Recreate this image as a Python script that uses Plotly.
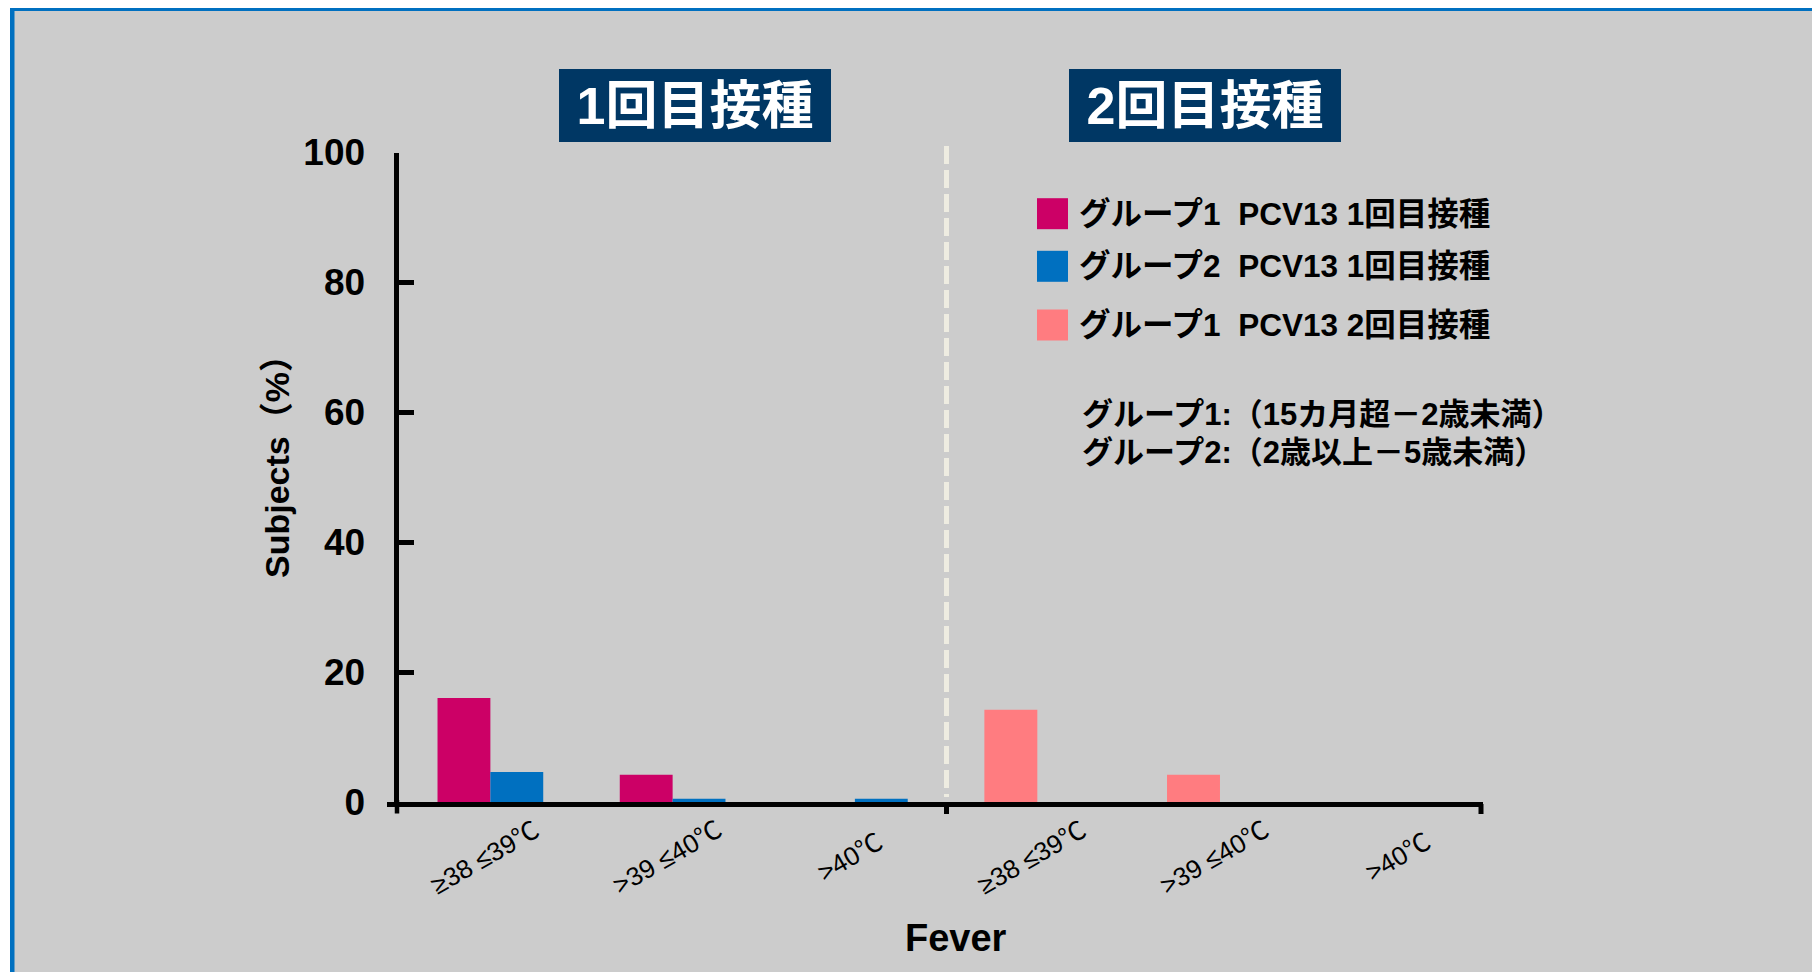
import plotly.graph_objects as go

# page size and the browser's default body margin (the figure is drawn at +8,+8)
PAGE_W, PAGE_H, OFF = 1820, 972, 8
W, H = PAGE_W - OFF, PAGE_H - OFF

# ---------------- data ----------------
categories = ["≥38 ≤39℃", ">39 ≤40℃", ">40℃"]
g1_dose1 = [16.0, 4.2, 0.0]   # グループ1 PCV13 1回目接種
g2_dose1 = [4.6, 0.5, 0.5]    # グループ2 PCV13 1回目接種
g1_dose2 = [14.2, 4.2, 0.0]   # グループ1 PCV13 2回目接種
series_names = [
    "グループ1\u00a0\u00a0PCV13 1回目接種",
    "グループ2\u00a0\u00a0PCV13 1回目接種",
    "グループ1\u00a0\u00a0PCV13 2回目接種",
]
series_colors = ["#CC0066", "#0070C0", "#FF7C80"]
panel_titles = ["1回目接種", "2回目接種"]
notes = ["グループ1:（15カ月超－2歳未満）", "グループ2:（2歳以上－5歳未満）"]
y_ticks = [0, 20, 40, 60, 80, 100]
x_title = "Fever"
y_title = "Subjects（%）"

# ---------------- helpers ----------------
FAM = "Liberation Sans, Noto Sans CJK JP, sans-serif"


def px(x):
    """page pixel x -> paper fraction"""
    return (x - OFF) / W


def py(y):
    """page pixel y -> paper fraction"""
    return 1 - (y - OFF) / H


YAX = 397.0      # y-axis line centre (px)
XAXY = 804.5     # x-axis line centre (px)
LWY, LWX = 4.5, 5
XMID, XEND = 946.0, 1483.0
YTOP = 152.5

fig = go.Figure()

specs = [
    (g1_dose1, series_names[0], series_colors[0], "x", -0.29),
    (g2_dose1, series_names[1], series_colors[1], "x", 0.0),
    (g1_dose2, series_names[2], series_colors[2], "x2", -0.29),
]
for vals, name, color, xa, off in specs:
    fig.add_trace(go.Bar(
        x=categories, y=vals, name=name, xaxis=xa, yaxis="y",
        width=0.29, offset=off,
        marker=dict(color=color, line=dict(width=0)),
        showlegend=False,
    ))

xcommon = dict(type="category", showline=True, linewidth=LWX, linecolor="black",
               ticks="", showticklabels=False, showgrid=False, zeroline=False,
               anchor="y", layer="above traces", fixedrange=True, automargin=False)

fig.update_layout(
    template="none",
    width=W, height=H, autosize=False,
    margin=dict(l=0, r=0, t=0, b=0, pad=0, autoexpand=False),
    paper_bgcolor="#CCCCCC", plot_bgcolor="rgba(0,0,0,0)",
    showlegend=False,
    xaxis=dict(domain=[px(YAX + LWY / 2), px(XMID)], range=[-0.5, 2.5], **xcommon),
    xaxis2=dict(domain=[px(XMID), px(XEND)], range=[-0.5, 2.44], **xcommon),
    yaxis=dict(domain=[py(XAXY - LWX / 2), py(YTOP)], range=[0, 100],
               tickvals=y_ticks, ticks="inside", ticklen=15, tickwidth=5,
               tickcolor="black", showline=True, linewidth=LWY, linecolor="black",
               showgrid=False, zeroline=False, anchor="x", layer="above traces",
               tickfont=dict(family=FAM, size=37, color="black", weight="bold"),
               ticklabelstandoff=22, fixedrange=True, automargin=False),
)

shapes = []
# frame (slide border): blue top and left lines
shapes.append(dict(type="rect", xref="paper", yref="paper", x0=px(8), x1=px(10), y0=0, y1=1,
                   fillcolor="white", line=dict(width=0), layer="above"))
shapes.append(dict(type="rect", xref="paper", yref="paper", x0=px(10), x1=1, y0=py(11), y1=1,
                   fillcolor="#0070C0", line=dict(width=0), layer="above"))
shapes.append(dict(type="rect", xref="paper", yref="paper", x0=px(10), x1=px(14.5), y0=0, y1=1,
                   fillcolor="#0070C0", line=dict(width=0), layer="above"))
# axis extensions and boundary ticks
shapes.append(dict(type="line", xref="paper", yref="paper", x0=px(387), x1=px(400),
                   y0=py(XAXY), y1=py(XAXY), line=dict(color="black", width=LWX)))
shapes.append(dict(type="line", xref="paper", yref="paper", x0=px(YAX), x1=px(YAX),
                   y0=py(800), y1=py(813.5), line=dict(color="black", width=LWY)))
for tx in (946.5, 1481.0):
    shapes.append(dict(type="line", xref="paper", yref="paper", x0=px(tx), x1=px(tx),
                       y0=py(804), y1=py(814), line=dict(color="black", width=5)))
# dashed divider between dose 1 and dose 2
shapes.append(dict(type="line", xref="paper", yref="paper", x0=px(946.5), x1=px(946.5),
                   y0=py(146), y1=py(797), line=dict(color="#EEECE1", width=5, dash="18px,6px")))
# legend squares
legend_rows = [213.7, 266.3, 325.0]
for yc, col in zip(legend_rows, series_colors):
    shapes.append(dict(type="rect", xref="paper", yref="paper",
                       x0=px(1037), x1=px(1068), y0=py(yc + 15.5), y1=py(yc - 15.5),
                       fillcolor=col, line=dict(width=0)))

annotations = []
# panel title boxes
for title, xc in zip(panel_titles, (695, 1205)):
    annotations.append(dict(text=title, xref="paper", yref="paper", x=px(xc), y=py(105.4),
                            xanchor="center", yanchor="middle", showarrow=False,
                            width=272, height=73, bgcolor="#003764", borderpad=0, borderwidth=0,
                            font=dict(family=FAM, size=52, color="white", weight="bold")))
# legend text
for yc, name in zip(legend_rows, series_names):
    annotations.append(dict(text=name, xref="paper", yref="paper", x=px(1077), y=py(yc),
                            xanchor="left", yanchor="middle", showarrow=False,
                            font=dict(family=FAM, size=31.5, color="black", weight="bold")))
# notes
for yc, t in zip((414, 452.5), notes):
    annotations.append(dict(text=t, xref="paper", yref="paper", x=px(1080), y=py(yc),
                            xanchor="left", yanchor="middle", showarrow=False,
                            font=dict(family=FAM, size=31, color="black", weight="bold")))
# rotated category labels
for xa in ("x", "x2"):
    for c in categories:
        annotations.append(dict(text=c, xref=xa, yref="y", x=c, y=0,
                                xanchor="center", yanchor="middle", xshift=-5, yshift=-55,
                                textangle=-30, showarrow=False,
                                font=dict(family=FAM, size=26, color="black")))
# axis titles
annotations.append(dict(text=x_title, xref="paper", yref="paper", x=px(956), y=py(938),
                        xanchor="center", yanchor="middle", showarrow=False,
                        font=dict(family=FAM, size=38, color="black", weight="bold")))
annotations.append(dict(text=y_title, xref="paper", yref="paper", x=px(277), y=py(458),
                        xanchor="center", yanchor="middle", showarrow=False, textangle=-90,
                        font=dict(family=FAM, size=34, color="black", weight="bold")))

fig.update_layout(shapes=shapes, annotations=annotations)
fig.write_html("out.html")
